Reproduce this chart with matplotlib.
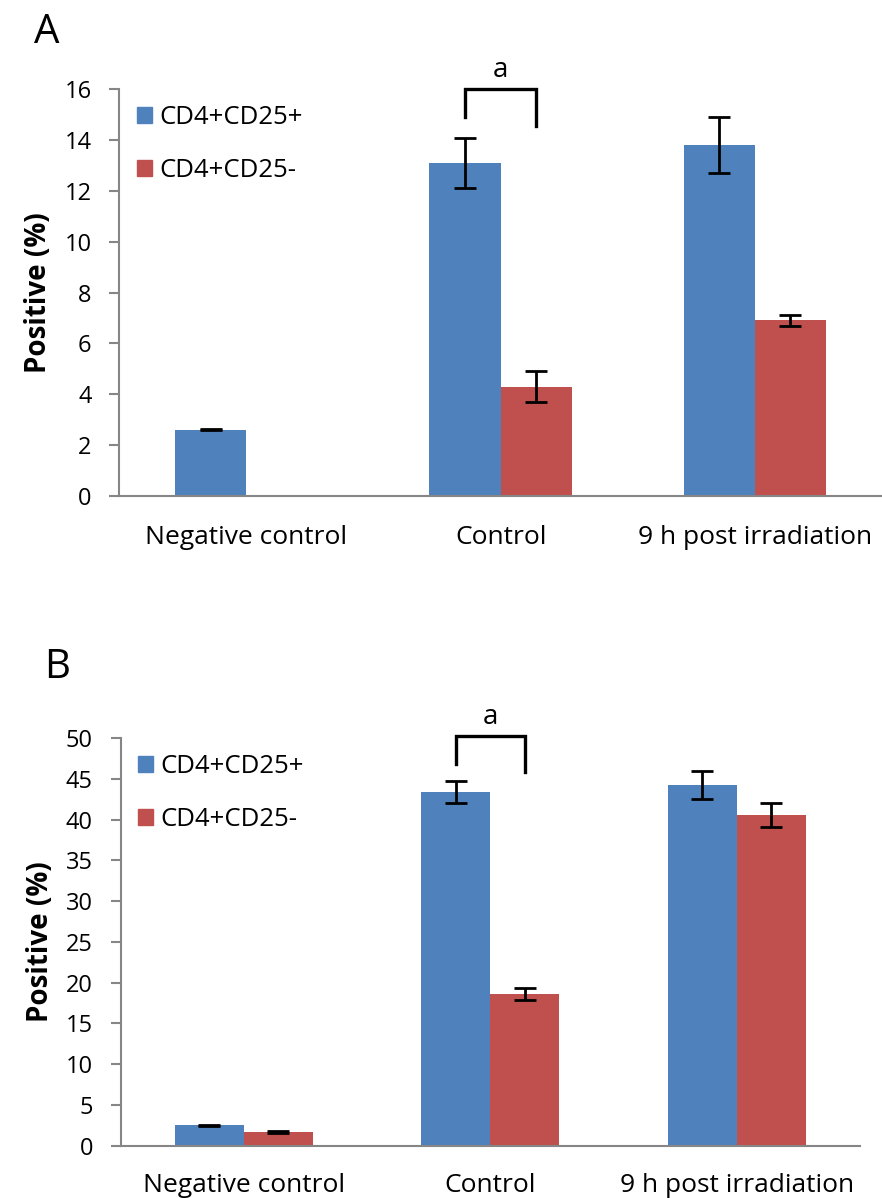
import matplotlib.pyplot as plt
import numpy as np
from matplotlib.patches import Patch

plt.rcParams["font.family"] = ["Open Sans", "DejaVu Sans"]

CATEGORIES = ["Negative control", "Control", "9 h post irradiation"]
SERIES = ["CD4+CD25+", "CD4+CD25-"]

# panel A
A_POS = [2.6, 13.1, 13.8]
A_POS_ERR = [0.03, 1.0, 1.1]
A_NEG = [0.0, 4.3, 6.9]
A_NEG_ERR = [0.0, 0.6, 0.2]

# panel B
B_POS = [2.5, 43.4, 44.3]
B_POS_ERR = [0.1, 1.3, 1.7]
B_NEG = [1.7, 18.6, 40.6]
B_NEG_ERR = [0.1, 0.7, 1.5]

BLUE = "#4F81BD"
RED = "#C0504D"
AXIS_GREY = "#868686"
WIDTH = 0.28


def draw_panel(ax, pos, pos_err, neg, neg_err, ymax, step, bracket, label_pad):
    x = np.arange(len(CATEGORIES))
    ax.bar(x - WIDTH / 2, pos, WIDTH, color=BLUE, zorder=2)
    ax.bar(x + WIDTH / 2, neg, WIDTH, color=RED, zorder=2)
    err_kw = dict(fmt="none", ecolor="black", elinewidth=2, capsize=8, capthick=2, zorder=3)
    ax.errorbar(x - WIDTH / 2, pos, yerr=pos_err, **err_kw)
    mask = np.array(neg) > 0
    ax.errorbar((x + WIDTH / 2)[mask], np.array(neg)[mask],
                yerr=np.array(neg_err)[mask], **err_kw)

    # significance bracket over Control
    top, left_low, right_low = bracket
    xl, xr = 1 - WIDTH / 2, 1 + WIDTH / 2
    ax.plot([xl, xl, xr, xr], [left_low, top, top, right_low],
            color="black", lw=2.4, clip_on=False, solid_joinstyle="miter")
    ax.text(1, top + ymax * 0.047, "a", ha="center", va="center", fontsize=20)

    ax.set_xlim(-0.5, 2.5)
    ax.set_ylim(0, ymax)
    ax.set_yticks(np.arange(0, ymax + step / 2, step))
    ax.set_xticks(x)
    ax.set_xticklabels(CATEGORIES, fontsize=19)
    ax.tick_params(axis="x", length=0, pad=label_pad)
    ax.tick_params(axis="y", labelsize=17, length=7, width=1.5, color=AXIS_GREY, pad=13)
    for side in ("top", "right"):
        ax.spines[side].set_visible(False)
    for side in ("left", "bottom"):
        ax.spines[side].set_color(AXIS_GREY)
        ax.spines[side].set_linewidth(1.5)
    ax.set_ylabel("Positive (%)", fontsize=20, fontweight="bold", labelpad=8)

    handles = [Patch(color=BLUE), Patch(color=RED)]
    ax.legend(handles, SERIES, loc="upper left", bbox_to_anchor=(0.023, 0.962),
              frameon=False, fontsize=18.5, handlelength=0.58, handleheight=0.58,
              handletextpad=0.3, labelspacing=1.1, borderpad=0, borderaxespad=0)


fig = plt.figure(figsize=(8.82, 11.98), dpi=100)
ax_a = fig.add_axes([0.1353, 0.5862, 0.8647, 0.3392])
ax_b = fig.add_axes([0.1368, 0.0436, 0.8382, 0.3402])

draw_panel(ax_a, A_POS, A_POS_ERR, A_NEG, A_NEG_ERR, 16, 2, (16.0, 14.9, 14.55), 21)
draw_panel(ax_b, B_POS, B_POS_ERR, B_NEG, B_NEG_ERR, 50, 5, (50.3, 46.8, 45.8), 19.5)

fig.text(47 / 882, 1 - 33 / 1198, "A", fontsize=29, ha="center", va="center")
fig.text(57 / 882, 1 - 668 / 1198, "B", fontsize=29, ha="center", va="center")

fig.savefig("out.png", dpi=100)
plt.close(fig)
